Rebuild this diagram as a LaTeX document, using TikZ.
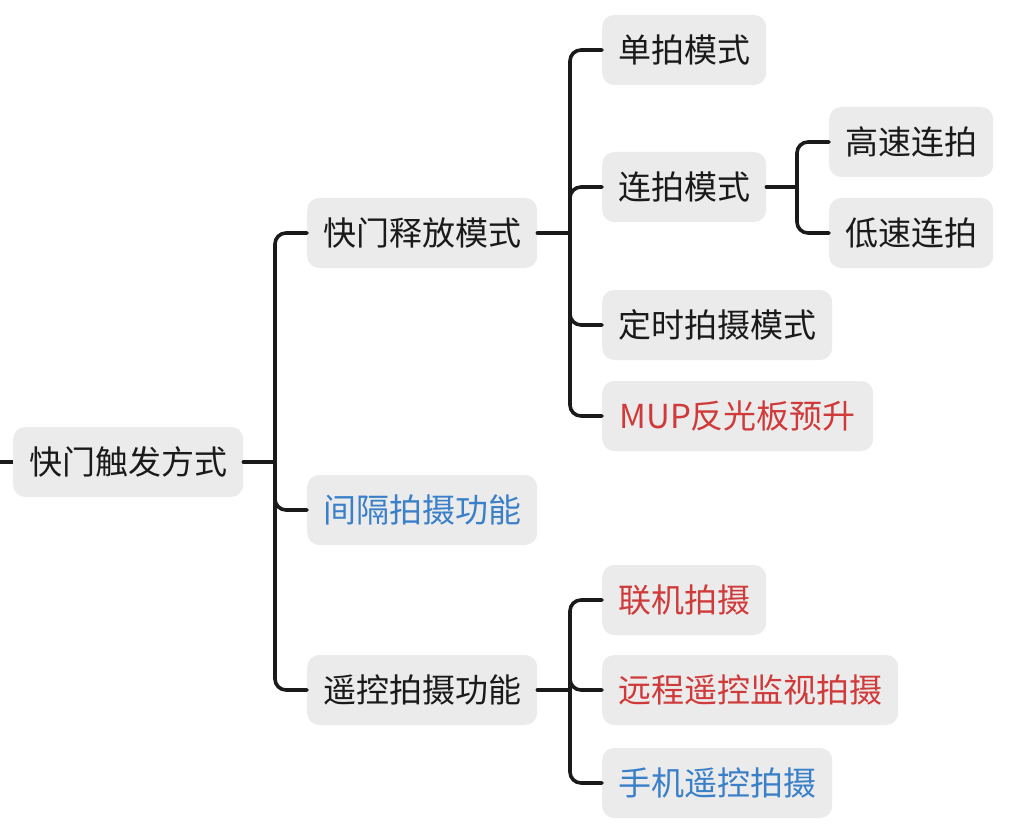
\documentclass[tikz,border=0pt]{standalone}
\usepackage{fontspec}
\setmainfont{Noto Sans CJK SC}
\definecolor{boxgray}{HTML}{EBEBEB}
\definecolor{myred}{HTML}{D03A3A}
\definecolor{myblue}{HTML}{3A80C8}
\definecolor{ink}{HTML}{1A1A1A}
\begin{document}
\begin{tikzpicture}[x=1pt,y=-1pt,
  mbox/.style={fill=boxgray, rounded corners=12pt, minimum height=70pt, inner xsep=16pt, inner ysep=0pt,
    anchor=west, font=\fontsize{33}{38}\selectfont, text=ink},
  conn/.style={draw=ink, line width=3.6pt, rounded corners=11pt, line cap=round}]
\useasboundingbox (0,0) rectangle (1010,832);
\node[mbox] (r) at (13,462) {快门触发方式};
\node[mbox] (a) at (307,233) {快门释放模式};
\node[mbox,text=myblue] (b) at (307,510) {间隔拍摄功能};
\node[mbox] (c) at (307,690) {遥控拍摄功能};
\node[mbox] (a1) at (602,50) {单拍模式};
\node[mbox] (a2) at (602,187) {连拍模式};
\node[mbox] (a3) at (602,325) {定时拍摄模式};
\node[mbox,text=myred,minimum width=271pt] (a4) at (602,416) {MUP反光板预升};
\node[mbox] (a21) at (829,142) {高速连拍};
\node[mbox] (a22) at (829,233) {低速连拍};
\node[mbox,text=myred] (c1) at (602,600) {联机拍摄};
\node[mbox,text=myred] (c2) at (602,690) {远程遥控监视拍摄};
\node[mbox,text=myblue] (c3) at (602,783) {手机遥控拍摄};
\coordinate (s) at (0,462);
\coordinate (rt) at (275,462);
\coordinate (at) at (570,233);
\coordinate (a2t) at (797,187);
\coordinate (ct) at (570,690);
\draw[conn,line cap=butt] (s) -- (r.west);
\draw[conn] (r.east) -- (rt);
\foreach \ch in {a,b,c} \draw[conn] (rt) |- (\ch.west);
\draw[conn] (a.east) -- (at);
\foreach \ch in {a1,a2,a3,a4} \draw[conn] (at) |- (\ch.west);
\draw[conn] (a2.east) -- (a2t);
\foreach \ch in {a21,a22} \draw[conn] (a2t) |- (\ch.west);
\draw[conn] (c.east) -- (ct);
\foreach \ch in {c1,c2,c3} \draw[conn] (ct) |- (\ch.west);
\end{tikzpicture}
\end{document}
